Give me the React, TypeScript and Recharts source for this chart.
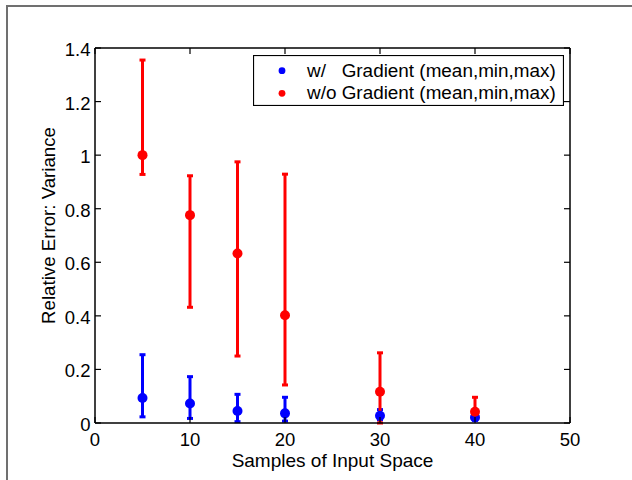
import React from 'react';
import { ScatterChart, Scatter, XAxis, YAxis, ErrorBar, Legend, Label } from 'recharts';

const samples = [5, 10, 15, 20, 30, 40];
const gradMean = [0.093, 0.073, 0.045, 0.036, 0.027, 0.021];
const gradMin = [0.023, 0.017, 0.005, 0.007, 0.012, 0.01];
const gradMax = [0.255, 0.173, 0.107, 0.096, 0.05, 0.032];
const noGradMean = [1.0, 0.776, 0.633, 0.402, 0.117, 0.042];
const noGradMin = [0.928, 0.432, 0.25, 0.142, 0.0, 0.021];
const noGradMax = [1.355, 0.923, 0.975, 0.929, 0.262, 0.096];

const xTicks = [0, 10, 20, 30, 40, 50];
const yTicks = [0, 0.2, 0.4, 0.6, 0.8, 1, 1.2, 1.4];
const seriesNames = ['w/   Gradient (mean,min,max)', 'w/o Gradient (mean,min,max)'];
const xLabel = 'Samples of Input Space';
const yLabel = 'Relative Error: Variance';

const build = (mean: number[], min: number[], max: number[]) =>
  samples.map((s, i) => ({ x: s, y: mean[i], err: [mean[i] - min[i], max[i] - mean[i]] }));

const gradData = build(gradMean, gradMin, gradMax);
const noGradData = build(noGradMean, noGradMin, noGradMax);

const W = 632;
const H = 480;
const M = { top: 48, right: 62, bottom: 0, left: 0 };
const Y_W = 95;
const X_H = 57;
const PLOT_TOP = M.top;
const PLOT_RIGHT = W - M.right;
const FONT = '"Liberation Sans", Arial, Helvetica, sans-serif';
const TICK = 6;

const XTick = (props: any) => {
  const { x, y, payload, index } = props;
  return (
    <g>
      {index === 0 && (
        <line x1={x} y1={PLOT_TOP} x2={PLOT_RIGHT} y2={PLOT_TOP} stroke="#000" strokeWidth={1.5} />
      )}
      <line x1={x} y1={y} x2={x} y2={y - TICK} stroke="#000" strokeWidth={1.2} />
      <line x1={x} y1={PLOT_TOP} x2={x} y2={PLOT_TOP + TICK} stroke="#000" strokeWidth={1.2} />
      <text x={x} y={y + 23} textAnchor="middle" fontSize={18.5} fill="#000" fontFamily={FONT}>
        {String(payload.value)}
      </text>
    </g>
  );
};

const YTick = (props: any) => {
  const { x, y, payload, index } = props;
  return (
    <g>
      {index === 0 && (
        <line x1={PLOT_RIGHT} y1={y} x2={PLOT_RIGHT} y2={PLOT_TOP} stroke="#000" strokeWidth={1.5} />
      )}
      <line x1={x} y1={y} x2={x + TICK} y2={y} stroke="#000" strokeWidth={1.2} />
      <line x1={PLOT_RIGHT} y1={y} x2={PLOT_RIGHT - TICK} y2={y} stroke="#000" strokeWidth={1.2} />
      <text x={x - 4.5} y={y + 8} textAnchor="end" fontSize={18.5} fill="#000" fontFamily={FONT}>
        {String(payload.value)}
      </text>
    </g>
  );
};

const YLabelContent = (props: any) => {
  const vb = props.viewBox || { y: 48, height: 375 };
  const cx = 55;
  const cy = vb.y + vb.height / 2 - 10;
  return (
    <text
      x={cx}
      y={cy}
      transform={`rotate(-90 ${cx} ${cy})`}
      textAnchor="middle"
      fontSize={18.7}
      fill="#000"
      fontFamily={FONT}
    >
      {yLabel}
    </text>
  );
};

const LegendContent = (props: any) => {
  const payload = props.payload || [];
  return (
    <svg width={311} height={51} style={{ display: 'block' }}>
      <rect x={0.5} y={0.5} width={310} height={50} fill="#fff" stroke="#000" strokeWidth={1.2} />
      {payload.map((p: any, i: number) => (
        <g key={i}>
          <circle cx={29} cy={15.7 + i * 22.6} r={3.4} fill={p.color} />
          <text
            x={54}
            y={21.7 + i * 22.6}
            fontSize={18.9}
            fill="#000"
            fontFamily={FONT}
            style={{ whiteSpace: 'pre' }}
          >
            {p.value}
          </text>
        </g>
      ))}
    </svg>
  );
};

const dotShape = (color: string) => (props: any) =>
  <circle cx={props.cx} cy={props.cy} r={5} fill={color} />;

export default function App() {
  return (
    <div
      style={{
        position: 'absolute',
        left: 0,
        top: 0,
        width: W,
        height: H,
        overflow: 'hidden',
        background: '#fff',
        fontFamily: FONT,
      }}
    >
      <div
        style={{
          position: 'absolute',
          left: 6,
          top: 5,
          width: 800,
          height: 700,
          borderLeft: '2px solid #707070',
          borderTop: '2px solid #707070',
        }}
      />
      <div style={{ position: 'absolute', left: 0, top: 0 }}>
        <ScatterChart width={W} height={H} margin={M}>
          <XAxis
            type="number"
            dataKey="x"
            domain={[0, 50]}
            ticks={xTicks}
            interval={0}
            height={X_H}
            tickSize={0}
            tickMargin={0}
            tickLine={false}
            tick={XTick}
            axisLine={{ stroke: '#000', strokeWidth: 1.5 }}
            allowDataOverflow
          >
            <Label value={xLabel} position="insideBottom" offset={13} fontSize={19} fill="#000" />
          </XAxis>
          <YAxis
            type="number"
            dataKey="y"
            domain={[0, 1.4]}
            ticks={yTicks}
            interval={0}
            width={Y_W}
            tickSize={0}
            tickMargin={0}
            tickLine={false}
            tick={YTick}
            axisLine={{ stroke: '#000', strokeWidth: 1.5 }}
            allowDataOverflow
          >
            <Label content={YLabelContent} />
          </YAxis>
          <Legend
            layout="horizontal"
            verticalAlign="middle"
            align="center"
            content={LegendContent}
            wrapperStyle={{ position: 'absolute', left: 253, top: 55, width: 311, height: 51 }}
          />
          <Scatter
            name={seriesNames[0]}
            data={gradData}
            fill="#0000ff"
            shape={dotShape('#0000ff')}
            isAnimationActive={false}
          >
            <ErrorBar dataKey="err" direction="y" width={3} stroke="#0000ff" strokeWidth={3} isAnimationActive={false} />
          </Scatter>
          <Scatter
            name={seriesNames[1]}
            data={noGradData}
            fill="#ff0000"
            shape={dotShape('#ff0000')}
            isAnimationActive={false}
          >
            <ErrorBar dataKey="err" direction="y" width={3} stroke="#ff0000" strokeWidth={3} isAnimationActive={false} />
          </Scatter>
        </ScatterChart>
      </div>
    </div>
  );
}
